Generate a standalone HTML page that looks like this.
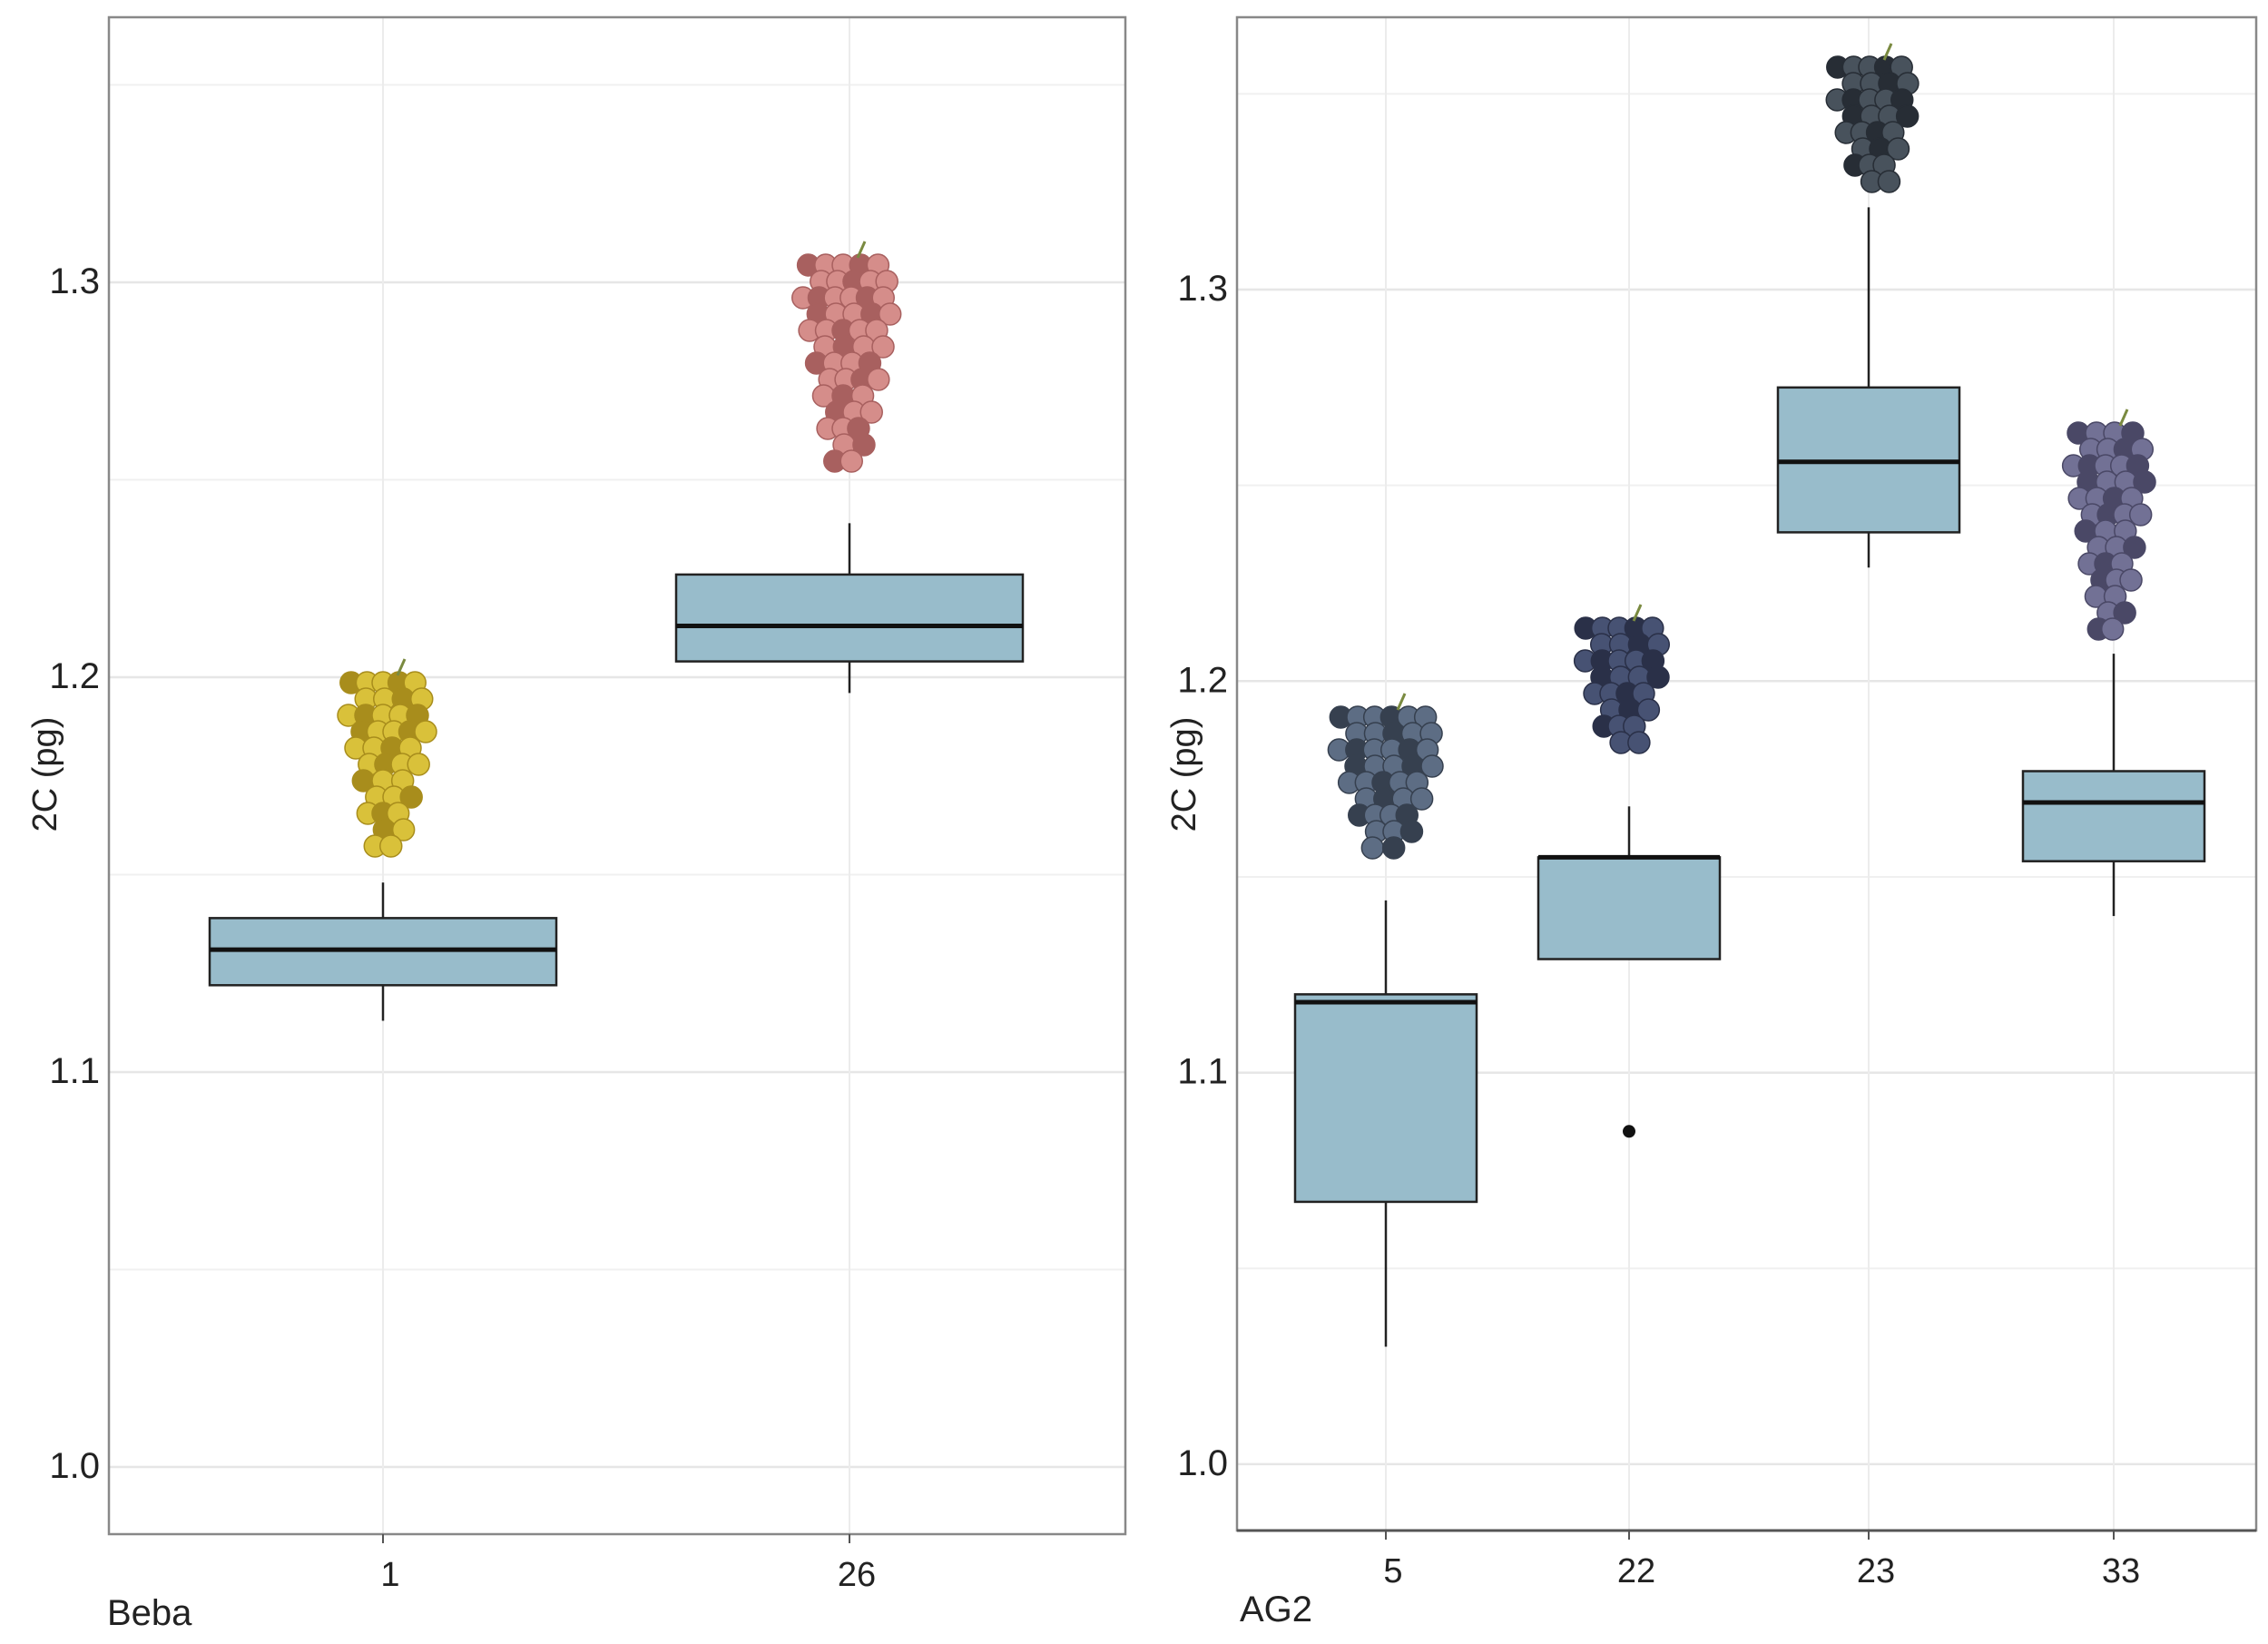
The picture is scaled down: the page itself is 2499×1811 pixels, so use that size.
<!DOCTYPE html>
<html><head><meta charset="utf-8">
<style>
html,body{margin:0;padding:0;background:#fff;}
svg{display:block;font-family:"Liberation Sans",Arial,sans-serif;}
</style></head>
<body>
<svg id="chart" width="2499" height="1811" viewBox="0 0 2499 1811" xmlns="http://www.w3.org/2000/svg"></svg>
<script>
// Left panel data (Beba)
const leftCategories = ["1", "26"];
const leftLowWhisker = [1.113, 1.196];
const leftQ1 = [1.122, 1.204];
const leftMedian = [1.131, 1.213];
const leftQ3 = [1.139, 1.226];
const leftHighWhisker = [1.148, 1.239];
const leftOutliers = [[], []];
// Right panel data (AG2)
const rightCategories = ["5", "22", "23", "33"];
const rightLowWhisker = [1.030, 1.129, 1.229, 1.140];
const rightQ1 = [1.067, 1.129, 1.238, 1.154];
const rightMedian = [1.118, 1.155, 1.256, 1.169];
const rightQ3 = [1.120, 1.155, 1.275, 1.177];
const rightHighWhisker = [1.144, 1.168, 1.321, 1.207];
const rightOutliers = [[], [1.085], [], []];
const yTicks = [1.0, 1.1, 1.2, 1.3];
const yTickLabels = ["1.0", "1.1", "1.2", "1.3"];

const NS = "http://www.w3.org/2000/svg";
const svg = document.getElementById("chart");
function mk(tag, attrs, parent) {
  const e = document.createElementNS(NS, tag);
  for (const k in attrs) e.setAttribute(k, attrs[k]);
  (parent || svg).appendChild(e);
  return e;
}

function panel(cfg) {
  const g = mk("g", {});
  
  
  const y = v => cfg.y13 + (1.3 - v) * cfg.pxPer;
  const n = cfg.cats.length;
  const x = i => cfg.catX[i];
  for (let v = 0.95; v <= 1.361; v += 0.05) {
    const yy = y(v);
    if (yy < cfg.top || yy > cfg.bottom) continue;
    const major = Math.abs(Math.round(v * 10) - v * 10) < 1e-6;
    const gl = mk("line", {x1: cfg.left, x2: cfg.right, y1: yy, y2: yy, stroke: major ? "#e6e6e6" : "#f0f0f0", "stroke-width": major ? 2.5 : 2}, g);
    
    
  }
  for (let i = 0; i < n; i++) {
    const vl = mk("line", {x1: x(i), x2: x(i), y1: cfg.top, y2: cfg.bottom, stroke: "#ececec", "stroke-width": 2}, g);
    
    
  }
  const fr = mk("rect", {x: cfg.left, y: cfg.top, width: cfg.right - cfg.left, height: cfg.bottom - cfg.top, fill: "none", stroke: cfg.borderColor, "stroke-width": 2.5}, g);
  
  
  if (cfg.bottomAxisDark) {
    const ax = mk("line", {x1: cfg.left, x2: cfg.right, y1: cfg.bottom, y2: cfg.bottom, stroke: "#555", "stroke-width": 3}, g);
    
    
  }
  yTicks.forEach((v, i) => {
    const t = mk("text", {x: cfg.left - 10, y: y(v) + 12, "font-size": 40, fill: "#222", "text-anchor": "end"}, g);
    t.textContent = yTickLabels[i];
    
    
  });
  const yt = mk("text", {x: 0, y: 0, "font-size": 38, fill: "#222", "text-anchor": "middle", transform: `translate(${cfg.yTitleX},${cfg.yTitleY}) rotate(-90)`}, g);
  yt.textContent = "2C (pg)";
  
  
  for (let i = 0; i < n; i++) {
    mk("line", {x1: x(i), x2: x(i), y1: cfg.bottom, y2: cfg.bottom + 10, stroke: "#555", "stroke-width": 2}, g);
    const t = mk("text", {x: x(i) + 8, y: cfg.bottom + 57, "font-size": 38, fill: "#222", "text-anchor": "middle"}, g);
    t.textContent = cfg.cats[i];
    
    
  }
  const xt = mk("text", {x: cfg.xTitleX, y: cfg.bottom + 100, "font-size": 40, fill: "#222"}, g);
  xt.textContent = cfg.xTitle;
  
  
  for (let i = 0; i < n; i++) {
    const bg = mk("g", {}, g);
    
    
    const cx = x(i), hw = cfg.halfW;
    mk("line", {x1: cx, x2: cx, y1: y(cfg.hi[i]), y2: y(cfg.q3[i]), stroke: "#222", "stroke-width": 2.5}, bg);
    mk("line", {x1: cx, x2: cx, y1: y(cfg.q1[i]), y2: y(cfg.lo[i]), stroke: "#222", "stroke-width": 2.5}, bg);
    mk("rect", {x: cx - hw, y: y(cfg.q3[i]), width: 2 * hw, height: Math.max(1, y(cfg.q1[i]) - y(cfg.q3[i])), fill: "#98bccb", stroke: "#222", "stroke-width": 2.5}, bg);
    mk("line", {x1: cx - hw, x2: cx + hw, y1: y(cfg.med[i]), y2: y(cfg.med[i]), stroke: "#111", "stroke-width": 5}, bg);
    cfg.out[i].forEach(v => {
      const c = mk("circle", {cx: cx, cy: y(v), r: 7, fill: "#111"}, bg);
      
      
    });
  }
}

function grape(cx, top, h, w, color, dark, name) {
  const g = mk("g", {});
  
  
  const r = 12;
  const rows = Math.floor(h / (r * 1.5));
  for (let j = 0; j < rows; j++) {
    const t = j / rows;
    const rw = w * (1 - 0.75 * t) * (j < 2 ? 0.8 : 1);
    const cnt = Math.max(1, Math.round(rw / (r * 1.6)));
    for (let k = 0; k < cnt; k++) {
      const px = cx - rw / 2 + (k + 0.5) * rw / cnt + ((j % 2) ? 6 : -6);
      const py = top + r + j * r * 1.5;
      mk("circle", {cx: px, cy: py, r: r, fill: (k + j) % 3 === 0 ? dark : color, stroke: dark, "stroke-width": 1.5}, g);
    }
  }
  mk("line", {x1: cx + 10, y1: top + 4, x2: cx + 18, y2: top - 14, stroke: "#7a8a40", "stroke-width": 3}, g);
}

panel({name: "beba-panel", cats: leftCategories, catX: [422, 936], left: 120, right: 1240, top: 19, bottom: 1690,
  y13: 311, pxPer: 4350, halfW: 191, lo: leftLowWhisker, q1: leftQ1, med: leftMedian, q3: leftQ3, hi: leftHighWhisker, out: leftOutliers,
  yTitleX: 62, yTitleY: 853, xTitle: "Beba", xTitleX: 118, borderColor: "#888", bottomAxisDark: false});
panel({name: "ag2-panel", cats: rightCategories, catX: [1527, 1795, 2059, 2329], left: 1363, right: 2486, top: 19, bottom: 1686,
  y13: 319, pxPer: 4313, halfW: 100, lo: rightLowWhisker, q1: rightQ1, med: rightMedian, q3: rightQ3, hi: rightHighWhisker, out: rightOutliers,
  yTitleX: 1317, yTitleY: 853, xTitle: "AG2", xTitleX: 1366, borderColor: "#888", bottomAxisDark: true});

grape(428, 740, 205, 110, "#d9c13a", "#a88d1c", "grape-image-1");
grape(935, 280, 240, 120, "#d58d8a", "#a8605f", "grape-image-26");
grape(1530, 778, 175, 140, "#5d6d84", "#36404f", "grape-image-5");
grape(1790, 680, 160, 115, "#475273", "#2a3048", "grape-image-22");
grape(2066, 62, 160, 110, "#48525c", "#272d35", "grape-image-23");
grape(2326, 465, 235, 100, "#727195", "#4a4866", "grape-image-33");
</script>
</body></html>
